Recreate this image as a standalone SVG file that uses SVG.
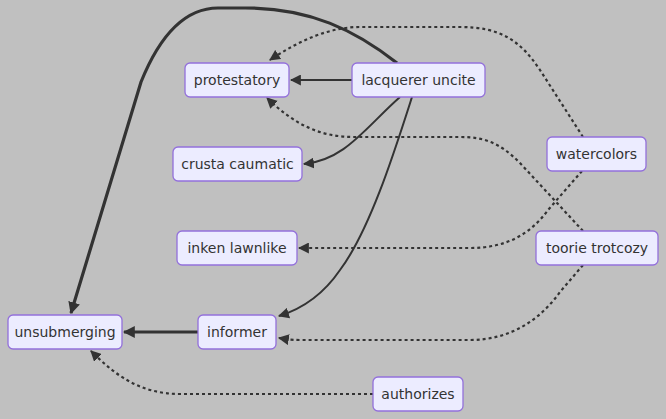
<svg xmlns="http://www.w3.org/2000/svg" width="666" height="419" viewBox="0 0 666 419">
<defs>
<style>
.node rect{fill:#ECECFF;stroke:#9370DB;stroke-width:1.3}
.node text{font-family:"DejaVu Sans",Verdana,sans-serif;font-size:14px;fill:#333;text-anchor:middle;dominant-baseline:central}
.e{fill:none;stroke:#333;stroke-width:2}
.thick{stroke-width:3.2}
.dot{stroke-dasharray:3 3;stroke-width:2.2}
</style>
<marker id="ah" viewBox="0 0 10 10" refX="9" refY="5" markerWidth="11" markerHeight="11" markerUnits="userSpaceOnUse" orient="auto">
<path d="M0,0 L10,5 L0,10 z" fill="#333"/>
</marker>
<marker id="ahT" viewBox="0 0 10 10" refX="9" refY="5" markerWidth="12" markerHeight="12" markerUnits="userSpaceOnUse" orient="auto">
<path d="M0,0 L10,5 L0,10 z" fill="#333"/>
</marker>
</defs>
<rect x="0" y="0" width="666" height="419" fill="#C0C0C0"/>
<g id="connectors">
<path class="e" d="M352,80 L291,80" marker-end="url(#ah)"/>
<path class="e thick" d="M397,63 C355,30 310,8 245,8 L218,8 C186,8 160,35 141,82 L71,313" marker-end="url(#ahT)"/>
<path class="e" d="M400,97 C365,128 345,160 304,164" marker-end="url(#ah)"/>
<path class="e" d="M412,97 C395,150 370,230 340,270 C325,292 305,308 279,316" marker-end="url(#ah)"/>
<path class="e dot" d="M583,137 L540,70 C520,40 500,27 460,27 L360,27 C330,27 300,40 270,60" marker-end="url(#ah)"/>
<path class="e dot" d="M583,231 L520,163 C500,143 485,137 460,137 L355,137 C320,137 295,125 267,98" marker-end="url(#ah)"/>
<path class="e dot" d="M582,171 L548,210 C530,235 505,248 470,248 L299,248" marker-end="url(#ah)"/>
<path class="e dot" d="M583,265 L560,292 C540,320 510,340 470,340 L300,340 C290,340 285,339 279,338" marker-end="url(#ah)"/>
<path class="e thick" d="M198,332 L124,332" marker-end="url(#ahT)"/>
<path class="e dot" d="M373,394 L180,394 C140,394 115,375 91,351" marker-end="url(#ah)"/>
</g>
<g id="protestatory" class="node"><rect x="185" y="63" width="104" height="34" rx="5"/><text x="237" y="80">protestatory</text></g>
<g id="lacquerer_uncite" class="node"><rect x="352" y="63" width="133" height="34" rx="5"/><text x="418.5" y="80">lacquerer uncite</text></g>
<g id="crusta_caumatic" class="node"><rect x="173" y="147" width="129" height="34" rx="5"/><text x="237.5" y="164">crusta caumatic</text></g>
<g id="inken_lawnlike" class="node"><rect x="177" y="231" width="120" height="34" rx="5"/><text x="237" y="248">inken lawnlike</text></g>
<g id="unsubmerging" class="node"><rect x="8" y="315" width="114" height="34" rx="5"/><text x="65" y="332">unsubmerging</text></g>
<g id="informer" class="node"><rect x="198" y="315" width="78" height="34" rx="5"/><text x="237" y="332">informer</text></g>
<g id="authorizes" class="node"><rect x="373" y="377" width="90" height="34" rx="5"/><text x="418" y="394">authorizes</text></g>
<g id="watercolors" class="node"><rect x="547" y="137" width="99" height="34" rx="5"/><text x="596.5" y="154">watercolors</text></g>
<g id="toorie_trotcozy" class="node"><rect x="536" y="231" width="122" height="34" rx="5"/><text x="597" y="248">toorie trotcozy</text></g>
</svg>
